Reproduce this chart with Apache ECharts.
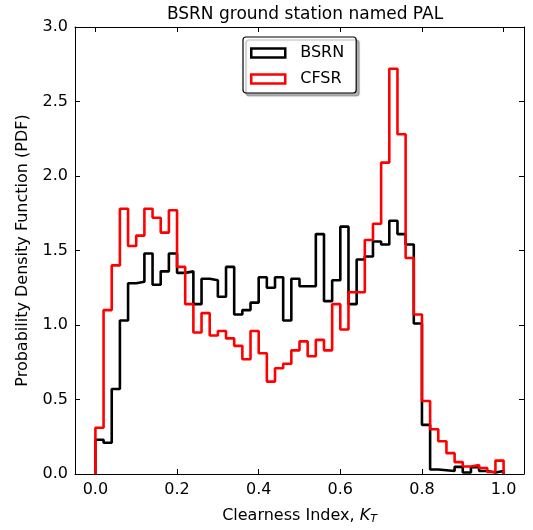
<!DOCTYPE html>
<html>
<head>
  <meta charset="utf-8" />
  <title>BSRN PAL</title>
  <script src="https://cdn.jsdelivr.net/npm/echarts@6/dist/echarts.min.js"></script>
  <style>
    body { margin: 0; padding: 0; background: #fff; }
    #main { width: 533px; height: 530px; }
  </style>
</head>
<body>
  <div id="main"></div>
  <script>
    // histogram bins: width 0.02 from 0.0 to 1.0
    var binWidth = 0.02;
    var xTicks = [0.0, 0.2, 0.4, 0.6, 0.8, 1.0];

    var bsrn = [
      0.23, 0.21, 0.57, 1.03, 1.28, 1.29, 1.48, 1.27, 1.36, 1.48,
      1.35, 1.36, 1.14, 1.31, 1.30, 1.19, 1.39, 1.07, 1.10, 1.15,
      1.32, 1.25, 1.32, 1.03, 1.31, 1.26, 1.26, 1.61, 1.16, 1.30,
      1.66, 1.14, 1.44, 1.46, 1.56, 1.54, 1.70, 1.61, 1.54, 1.01,
      0.33, 0.03, 0.025, 0.02, 0.048, 0.01, 0.045, 0.02, 0.01, 0.02
    ];
    var cfsr = [
      0.31, 1.10, 1.40, 1.78, 1.53, 1.60, 1.78, 1.72, 1.62, 1.77,
      1.39, 1.14, 0.95, 1.08, 0.93, 0.96, 0.91, 0.86, 0.77, 0.96,
      0.81, 0.62, 0.71, 0.74, 0.83, 0.89, 0.79, 0.90, 0.83, 1.14,
      0.97, 1.22, 1.22, 1.57, 1.68, 2.09, 2.72, 2.28, 1.45, 1.07,
      0.49, 0.30, 0.22, 0.14, 0.08, 0.05, 0.06, 0.04, 0.013, 0.09
    ];

    // outline of a step histogram
    function stepOutline(vals) {
      var pts = [[0, 0]];
      vals.forEach(function (v, i) { pts.push([i * binWidth, v]); });
      var end = vals.length * binWidth;
      pts.push([end, vals[vals.length - 1]]);
      pts.push([end, 0]);
      return pts;
    }

    var font = 'DejaVu Sans';
    var chart = echarts.init(document.getElementById('main'), null, { renderer: 'canvas' });

    var xBase = {
      type: 'value', min: -0.05, max: 1.05,
      splitLine: { show: false },
      axisLine: { show: true, onZero: false, lineStyle: { color: '#000', width: 1 } },
      axisTick: { show: true, inside: true, length: 5, customValues: xTicks, lineStyle: { color: '#000' } }
    };
    var yBase = {
      type: 'value', min: 0, max: 3, interval: 0.5,
      splitLine: { show: false },
      axisLine: { show: true, onZero: false, lineStyle: { color: '#000', width: 1 } },
      axisTick: { show: true, inside: true, length: 5, lineStyle: { color: '#000' } }
    };

    chart.setOption({
      animation: false,
      title: {
        text: 'BSRN ground station named PAL',
        left: 300, top: 1, textAlign: 'center',
        textStyle: { fontFamily: font, fontSize: 17, fontWeight: 'normal', color: '#000' }
      },
      grid: { left: 75, right: 9, top: 27, bottom: 53.5 },
      legend: {
        orient: 'vertical',
        left: 243, top: 37,
        padding: [8, 12, 6, 7],
        itemWidth: 34, itemHeight: 9, itemGap: 10,
        backgroundColor: '#fff',
        borderColor: '#000', borderWidth: 1.2, borderRadius: 3,
        shadowColor: 'rgba(0,0,0,0.3)', shadowOffsetX: 3, shadowOffsetY: 3, shadowBlur: 1,
        textStyle: { fontFamily: font, fontSize: 16, color: '#000', padding: [0, 0, 0, 10] },
        data: [
          { name: 'BSRN', icon: 'rect', itemStyle: { color: '#fff', borderColor: '#000', borderWidth: 2.5 } },
          { name: 'CFSR', icon: 'rect', itemStyle: { color: '#fff', borderColor: '#ff0000', borderWidth: 2.5 } }
        ]
      },
      xAxis: [
        Object.assign({}, xBase, {
          position: 'bottom',
          name: 'Clearness Index, {k|K}{t|T}',
          nameLocation: 'middle', nameGap: 32,
          nameTextStyle: {
            fontFamily: font, fontSize: 16, color: '#000',
            rich: {
              k: { fontFamily: font, fontSize: 16, fontStyle: 'italic', color: '#000' },
              t: { fontFamily: font, fontSize: 11, fontStyle: 'italic', color: '#000', padding: [8, 0, 0, 0] }
            }
          },
          axisLabel: {
            show: true, margin: 8, customValues: xTicks,
            fontFamily: font, fontSize: 16, color: '#000',
            formatter: function (v) { return v.toFixed(1); }
          }
        }),
        Object.assign({}, xBase, { position: 'top', axisLabel: { show: false } })
      ],
      yAxis: [
        Object.assign({}, yBase, {
          position: 'left',
          name: 'Probability Density Function (PDF)',
          nameLocation: 'middle', nameGap: 44,
          nameTextStyle: { fontFamily: font, fontSize: 16, color: '#000' },
          axisLabel: {
            show: true, margin: 7,
            fontFamily: font, fontSize: 16, color: '#000',
            formatter: function (v) { return v.toFixed(1); }
          }
        }),
        Object.assign({}, yBase, { position: 'right', axisLabel: { show: false } })
      ],
      series: [
        {
          name: 'BSRN', type: 'line', step: 'end',
          xAxisIndex: 0, yAxisIndex: 0,
          showSymbol: false, symbol: 'none',
          lineStyle: { color: '#000', width: 2.6 },
          itemStyle: { color: '#000' },
          data: stepOutline(bsrn)
        },
        {
          name: 'CFSR', type: 'line', step: 'end',
          xAxisIndex: 0, yAxisIndex: 0,
          showSymbol: false, symbol: 'none',
          lineStyle: { color: '#ff0000', width: 2.6 },
          itemStyle: { color: '#ff0000' },
          data: stepOutline(cfsr)
        }
      ]
    });
  </script>
</body>
</html>
